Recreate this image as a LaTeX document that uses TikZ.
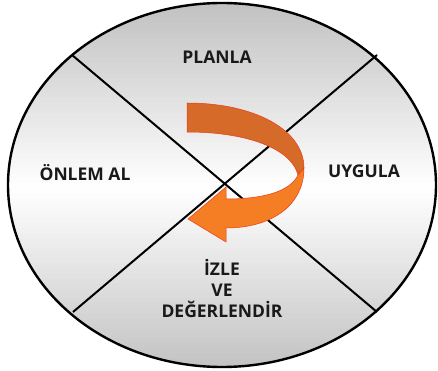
\documentclass[tikz,border=0pt]{standalone}
\usepackage{fontspec}
\setmainfont{Open Sans}
\tikzset{
  stage/.style={font=\bfseries\fontsize{17.5}{21}\selectfont, text=black!90, align=center, inner sep=1pt},
  divider/.style={line width=2pt, black},
  backside/.style={fill={rgb,255:red,214;green,106;blue,40}, draw={rgb,255:red,235;green,60;blue,30}, line width=0.5pt},
  frontside/.style={fill={rgb,255:red,245;green,125;blue,35}, draw={rgb,255:red,235;green,60;blue,30}, line width=0.5pt}
}
\begin{document}
\begin{tikzpicture}[x=1pt,y=-1pt]
\useasboundingbox (0,0) rectangle (438,371);
% disc, grey at top and bottom, white in the middle
\begin{scope}
\clip (222,185) ellipse [x radius=214, y radius=182];
\foreach \i in {0,...,73}{
  \pgfmathsetmacro\shadepct{24*abs(\i-36.5)/36.5}
  \fill[black!\shadepct] (0,{3+5*\i}) rectangle (438,{3+5*\i+5.5});
}
\end{scope}
% ends of the two dividers on the rim
\coordinate (nw) at (72,55);
\coordinate (se) at (377,312);
\coordinate (ne) at (377,55);
\coordinate (sw) at (73,312);
\draw[divider] (nw) -- (se);
\draw[divider] (ne) -- (sw);
\draw[line width=2.4pt] (222,185) ellipse [x radius=214, y radius=182];
% the curved arrow
\draw[backside] (187,103) .. controls (255,103) and (304,130) .. (304,168)
  -- (298,175) .. controls (292,150) and (250,132) .. (187,132) -- cycle;
\draw[frontside] (304,168) .. controls (304,205) and (272,228) .. (226,228)
  -- (226,242) -- (188,219) -- (226,187) -- (226,199)
  .. controls (262,199) and (290,192) .. (298,175) -- cycle;
% stage names
\node[stage] (plan) at (217,57) {PLANLA};
\node[stage] (do) at (364,171) {UYGULA};
\node[stage] (act) at (85,173) {ÖNLEM AL};
\node[stage] (check) at (222,288) {İZLE\\VE\\DEĞERLENDİR};
\end{tikzpicture}
\end{document}
